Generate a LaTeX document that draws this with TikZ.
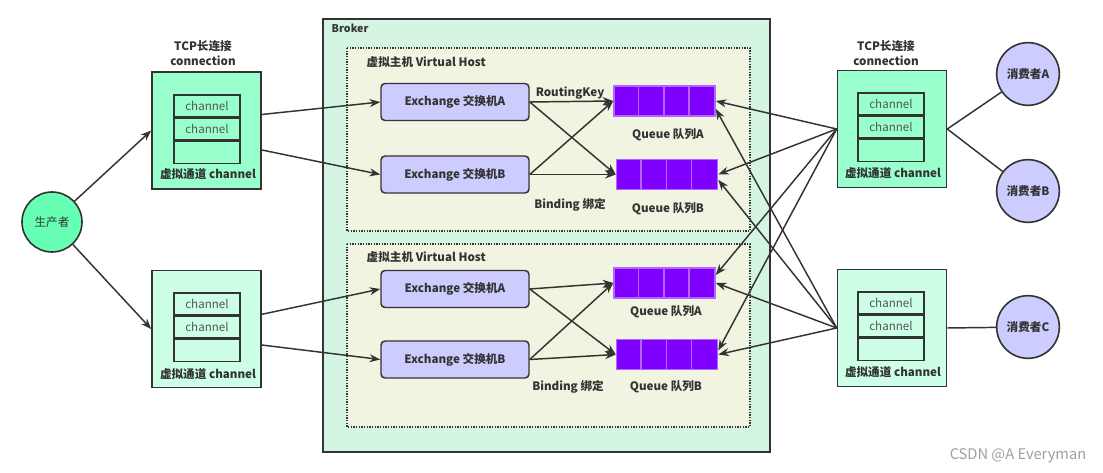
\documentclass[tikz,border=0pt]{standalone}
\usepackage{fontspec}
\setmainfont{Noto Sans CJK SC}
\usetikzlibrary{arrows.meta,positioning}

\definecolor{linegray}{HTML}{333333}
\definecolor{chantext}{HTML}{555555}
\definecolor{prodfill}{HTML}{66FFB3}
\definecolor{connfill}{HTML}{99FFCC}
\definecolor{connlight}{HTML}{CCFFE6}
\definecolor{brokerfill}{HTML}{D5F5E3}
\definecolor{vhostfill}{HTML}{F0F4E0}
\definecolor{exfill}{HTML}{CCCCFF}
\definecolor{qfill}{HTML}{7F00FF}
\definecolor{qborder}{HTML}{B266FF}

\begin{document}
\begin{tikzpicture}[x=0.75pt, y=-0.75pt,
    font=\fontsize{8.7}{10}\selectfont\bfseries, text=linegray,
    connbox/.style={draw=linegray, line width=1.2pt, minimum width=81.75pt, minimum height=87.75pt, inner sep=0pt},
    chan/.style={draw=linegray, line width=1.1pt, minimum width=49.5pt, minimum height=16.3pt, inner sep=0pt,
        font=\fontsize{8.7}{10}\selectfont\mdseries, text=chantext},
    exbox/.style={draw=linegray, fill=exfill, rounded corners=3pt, line width=1.1pt, minimum width=111pt, minimum height=27.75pt},
    queue/.style={draw=qborder, fill=qfill, line width=1.1pt, minimum width=75.75pt, minimum height=22.5pt, inner sep=0pt},
    person/.style={circle, draw=linegray, line width=1.2pt, minimum size=47pt, inner sep=0pt},
    link/.style={draw=linegray, line width=1.1pt},
    flow/.style={link, -{Stealth[length=8pt,width=6pt]}}]

    \useasboundingbox (0,0) rectangle (1103,473);

    % broker and virtual hosts
    \draw[linegray, fill=brokerfill, line width=1.2pt] (323,19) rectangle (770,452);
    \node[anchor=west, font=\fontsize{8}{10}\selectfont\bfseries] (brokerlbl) at (327,28) {Broker};
    \draw[linegray, fill=vhostfill, line width=1pt, densely dotted] (347,48) rectangle (750,231);
    \draw[linegray, fill=vhostfill, line width=1pt, densely dotted] (347,244) rectangle (750,427);
    \node[anchor=west] (vhost1) at (362,62) {虚拟主机 Virtual Host};
    \node[anchor=west] (vhost2) at (362,257) {虚拟主机 Virtual Host};

    % producer and consumers
    \node[person, fill=prodfill, minimum size=45pt, font=\fontsize{8.7}{10}\selectfont\mdseries] (prod) at (52,222) {生产者};
    \node[person, fill=exfill] (consA) at (1028,74) {消费者A};
    \node[person, fill=exfill] (consB) at (1028,191) {消费者B};
    \node[person, fill=exfill] (consC) at (1028,327) {消费者C};

    % connections
    \node[connbox, fill=connfill] (conn1) at (206.5,130.5) {};
    \node[connbox, fill=connlight] (conn2) at (206.5,329) {};
    \node[connbox, fill=connfill] (conn3) at (892,129) {};
    \node[connbox, fill=connlight] (conn4) at (892,328) {};

    \node[align=center, font=\fontsize{8.7}{11.3}\selectfont\bfseries] (tcp1) at (203,53) {TCP长连接\\connection};
    \node[align=center, font=\fontsize{8.7}{11.3}\selectfont\bfseries] (tcp3) at (886,53) {TCP长连接\\connection};

    \node[chan] (c1a) at (207,106) {channel};
    \node[chan, below=0pt of c1a] (c1b) {channel};
    \node[chan, below=0pt of c1b] (c1c) {};
    \node[chan] (c2a) at (207,304) {channel};
    \node[chan, below=0pt of c2a] (c2b) {channel};
    \node[chan, below=0pt of c2b] (c2c) {};
    \node[chan] (c3a) at (891,104) {channel};
    \node[chan, below=0pt of c3a] (c3b) {channel};
    \node[chan, below=0pt of c3b] (c3c) {};
    \node[chan] (c4a) at (891,303) {channel};
    \node[chan, below=0pt of c4a] (c4b) {channel};
    \node[chan, below=0pt of c4b] (c4c) {};

    \node (vc1) at (208,174) {虚拟通道 channel};
    \node (vc2) at (208,374) {虚拟通道 channel};
    \node (vc3) at (893,173) {虚拟通道 channel};
    \node (vc4) at (893,372) {虚拟通道 channel};

    % exchanges
    \node[exbox] (exA1) at (455,102) {Exchange 交换机A};
    \node[exbox] (exB1) at (455,174.5) {Exchange 交换机B};
    \node[exbox] (exA2) at (455,289) {Exchange 交换机A};
    \node[exbox] (exB2) at (455,359.5) {Exchange 交换机B};

    % queues
    \node[queue] (qa1) at (664.5,101) {};
    \node[queue] (qb1) at (667,174.5) {};
    \node[queue] (qa2) at (664.5,283) {};
    \node[queue] (qb2) at (667,354.5) {};
    \foreach \q in {qa1,qb1,qa2,qb2} {
        \foreach \i in {1,2,3} {
            \draw[qborder, line width=1.1pt] ([xshift=\i*18.94pt]\q.north west) -- ([xshift=\i*18.94pt]\q.south west);
        }
    }

    \node (qa1lbl) at (668,135) {Queue 队列A};
    \node (qb1lbl) at (668,209) {Queue 队列B};
    \node (qa2lbl) at (666,312) {Queue 队列A};
    \node (qb2lbl) at (666,387) {Queue 队列B};
    \node (rkey) at (570,93) {RoutingKey};
    \node (bind1) at (570,205) {Binding 绑定};
    \node (bind2) at (568,387) {Binding 绑定};

    % producer side
    \draw[flow] (prod) -- (conn1.west);
    \draw[flow] (prod) -- (conn2.west);
    \draw[flow] ([yshift=12pt]conn1.east) -- (exA1.west);
    \draw[flow] ([yshift=-14.6pt]conn1.east) -- (exB1.west);
    \draw[flow] ([yshift=11pt]conn2.east) -- (exA2.west);
    \draw[flow] ([yshift=-12pt]conn2.east) -- (exB2.west);

    % bindings
    \draw[flow] (exA1.east) -- (qa1.west);
    \draw[flow] (exA1.east) -- (qb1.west);
    \draw[flow] (exB1.east) -- (qa1.west);
    \draw[flow] (exB1.east) -- (qb1.west);
    \draw[flow] (exA2.east) -- (qa2.west);
    \draw[flow] (exA2.east) -- (qb2.west);
    \draw[flow] (exB2.east) -- (qa2.west);
    \draw[flow] (exB2.east) -- (qb2.west);

    % consumer side
    \draw[flow] (conn3.west) -- (qa1.east);
    \draw[flow] (conn3.west) -- (qb1.east);
    \draw[flow] (conn3.west) -- ([yshift=6pt]qa2.east);
    \draw[flow] (conn3.west) -- ([yshift=3pt]qb2.east);
    \draw[flow] (conn4.west) -- ([yshift=-6pt]qa1.east);
    \draw[flow] (conn4.west) -- ([yshift=-4pt]qb1.east);
    \draw[flow] (conn4.west) -- (qa2.east);
    \draw[flow] (conn4.west) -- (qb2.east);
    \draw[link] (conn3.east) -- (consA);
    \draw[link] (conn3.east) -- (consB);
    \draw[link] (conn4.east) -- (consC);

    \node[font=\fontsize{11}{13}\selectfont\mdseries, text=gray!75] (mark) at (1018,456) {CSDN @A Everyman};

\end{tikzpicture}
\end{document}
